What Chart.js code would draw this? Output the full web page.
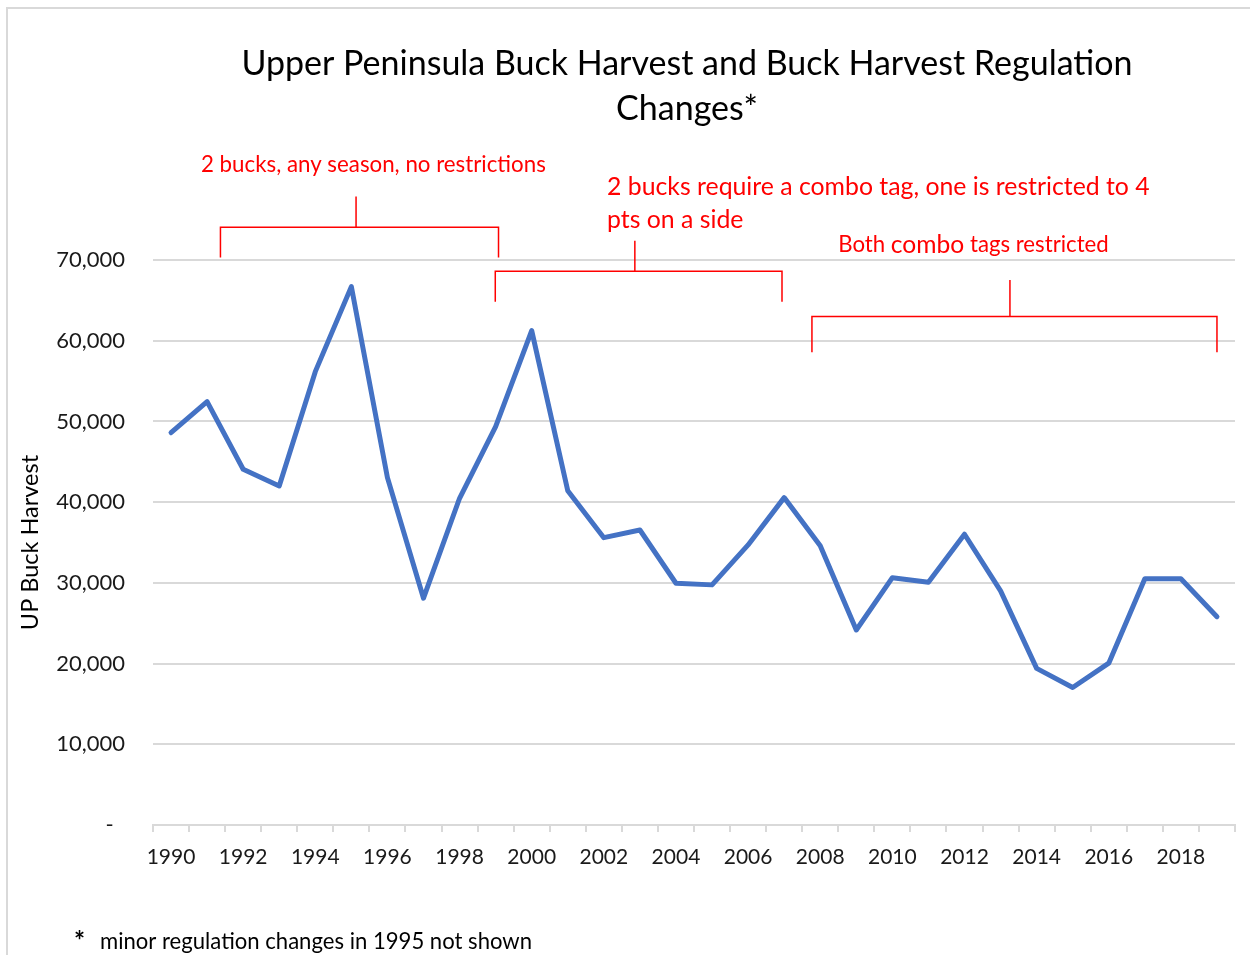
<!DOCTYPE html>
<html>
<head>
<meta charset="utf-8">
<title>Upper Peninsula Buck Harvest</title>
<script src="https://cdn.jsdelivr.net/npm/chart.js@4.4.1/dist/chart.umd.min.js"></script>
<style>
  html, body { margin: 0; padding: 0; background: #fff; }
  #wrap { width: 1250px; height: 955px; position: relative; }
</style>
</head>
<body>
<div id="wrap"><canvas id="myChart"></canvas></div>
<script>
// data
const years = ["1990", "1991", "1992", "1993", "1994", "1995", "1996", "1997", "1998", "1999",
  "2000", "2001", "2002", "2003", "2004", "2005", "2006", "2007", "2008", "2009",
  "2010", "2011", "2012", "2013", "2014", "2015", "2016", "2017", "2018", "2019"];
const harvest = [48600, 52450, 44080, 42000, 56170, 66700, 43040, 28100, 40480, 49350,
  61250, 41420, 35600, 36550, 29950, 29750, 34700, 40560, 34610, 24160,
  30640, 30070, 36020, 29000, 19400, 17040, 20050, 30500, 30500, 25810];
const yTickValues = [0, 10000, 20000, 30000, 40000, 50000, 60000, 70000];

const titleLines = ["Upper Peninsula Buck Harvest and Buck Harvest Regulation", "Changes*"];
const footnote = "minor regulation changes in 1995 not shown";

// regulation periods, in year / harvest units
const brackets = [
  { from: 1991.37, to: 1999.08, mid: 1995.13, bar: 74060, foot: 70300, tip: 77860 },
  { from: 1998.99, to: 2006.94, mid: 2002.86, bar: 68610, foot: 64840, tip: 72400 },
  { from: 2007.77, to: 2019.0, mid: 2013.26, bar: 62990, foot: 58570, tip: 67530 },
];

const FONT = "Lato, 'Open Sans', sans-serif";
const RED = "#ff0000";

const annotations = {
  id: "annotations",
  beforeDraw(chart) {
    const ctx = chart.ctx;
    ctx.save();
    ctx.strokeStyle = "#d9d9d9";
    ctx.lineWidth = 2;
    ctx.strokeRect(7, 8, 1300, 1000);
    ctx.restore();
  },
  afterDraw(chart) {
    const ctx = chart.ctx;
    const xs = chart.scales.x, ys = chart.scales.y;
    const px = (yr) => xs.getPixelForValue(yr - 1990);
    const py = (v) => ys.getPixelForValue(v);

    ctx.save();
    // title
    ctx.fillStyle = "#000";
    ctx.textAlign = "center";
    ctx.textBaseline = "middle";
    ctx.font = "34px " + FONT;
    ctx.fillText(titleLines[0], 687, 64);
    ctx.fillText(titleLines[1], 687, 109);

    // brackets
    ctx.strokeStyle = RED;
    ctx.lineWidth = 1.5;
    brackets.forEach((b) => {
      ctx.beginPath();
      ctx.moveTo(px(b.from), py(b.foot));
      ctx.lineTo(px(b.from), py(b.bar));
      ctx.lineTo(px(b.to), py(b.bar));
      ctx.lineTo(px(b.to), py(b.foot));
      ctx.moveTo(px(b.mid), py(b.bar));
      ctx.lineTo(px(b.mid), py(b.tip));
      ctx.stroke();
    });

    // bracket labels
    ctx.fillStyle = RED;
    ctx.textAlign = "left";
    ctx.font = "22.3px " + FONT;
    ctx.fillText("2 bucks, any season, no restrictions", px(1990.83), py(81790));
    ctx.font = "24.8px " + FONT;
    ctx.fillText("2 bucks require a combo tag, one is restricted to 4", px(2002.09), py(79060));
    ctx.fillText("pts on a side", px(2002.09), py(74970));
    let x0 = px(2008.5);
    const yb = py(71870);
    ctx.font = "22.2px " + FONT;
    ctx.fillText("Both ", x0, yb);
    x0 += ctx.measureText("Both ").width;
    ctx.font = "24.6px " + FONT;
    ctx.fillText("combo", x0, yb);
    x0 += ctx.measureText("combo").width;
    ctx.font = "22.2px " + FONT;
    ctx.fillText(" tags restricted", x0, yb);

    // footnote
    ctx.fillStyle = "#000";
    ctx.font = "bold 26px " + FONT;
    ctx.fillText("*", 74, 942);
    ctx.font = "22.1px " + FONT;
    ctx.fillText(footnote, 100, 942);
    ctx.restore();
  },
};

new Chart(document.getElementById("myChart"), {
  type: "line",
  data: {
    labels: years,
    datasets: [
      {
        label: "UP Buck Harvest",
        data: harvest,
        borderColor: "#4472c4",
        backgroundColor: "#4472c4",
        borderWidth: 5,
        pointRadius: 0,
        tension: 0,
        borderJoinStyle: "round",
        borderCapStyle: "round",
      },
    ],
  },
  options: {
    responsive: true,
    maintainAspectRatio: false,
    animation: false,
    layout: { padding: { top: 260, left: 0, right: 15, bottom: 0 } },
    plugins: {
      legend: { display: false },
      tooltip: { enabled: false },
      title: { display: false },
    },
    scales: {
      x: {
        type: "category",
        offset: true,
        grid: {
          offset: true,
          drawOnChartArea: false,
          drawTicks: true,
          tickLength: 7,
          color: "#d9d9d9",
          lineWidth: 2,
        },
        border: { display: true, color: "#d9d9d9", width: 2 },
        ticks: {
          autoSkip: false,
          maxRotation: 0,
          padding: 13,
          color: "#1a1a1a",
          font: { family: FONT, size: 21 },
          callback: (v, i) => (i % 2 === 0 ? years[i] : ""),
        },
        afterFit: (scale) => {
          scale.height = 130;
        },
      },
      y: {
        min: 0,
        max: 70000,
        afterBuildTicks: (scale) => {
          scale.ticks = yTickValues.map((v) => ({ value: v }));
        },
        grid: { color: "#d9d9d9", lineWidth: 2, drawTicks: false },
        border: { display: false },
        ticks: {
          padding: 28,
          color: "#1a1a1a",
          font: { family: FONT, size: 22 },
          callback: (v) => (v === 0 ? "-  " : v.toLocaleString("en-US")),
        },
        title: {
          display: true,
          text: "UP Buck Harvest",
          color: "#000",
          font: { family: FONT, size: 23.5 },
          padding: { top: 16, bottom: 0 },
        },
        afterFit: (scale) => {
          scale.width = 153;
        },
      },
    },
  },
  plugins: [annotations],
});
</script>
</body>
</html>
